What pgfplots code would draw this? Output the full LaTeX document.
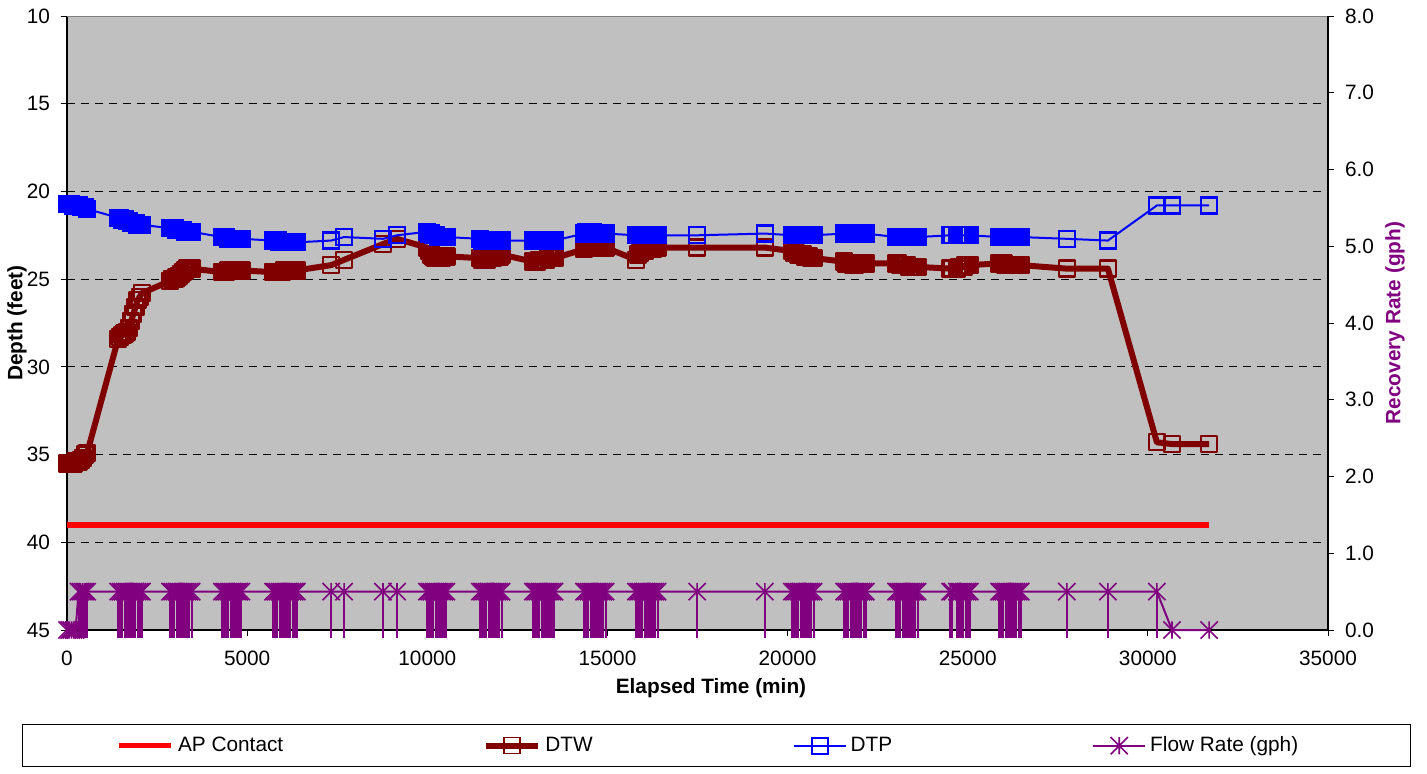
\documentclass[border=0pt]{standalone}
\usepackage{fontspec}
\setmainfont{Liberation Sans}
\usepackage{pgfplots}
\usepackage{pgfplotstable}
\pgfplotsset{compat=1.18}

\definecolor{dtwred}{HTML}{800000}
\definecolor{bggray}{HTML}{C0C0C0}
\definecolor{flowpurple}{HTML}{800080}
\definecolor{rimgray}{HTML}{808080}

% Excel-like star: vertical bar plus an X
\pgfdeclareplotmark{xstar}{%
  \pgfpathmoveto{\pgfqpoint{0pt}{\pgfplotmarksize}}%
  \pgfpathlineto{\pgfqpoint{0pt}{-\pgfplotmarksize}}%
  \pgfpathmoveto{\pgfqpoint{-\pgfplotmarksize}{\pgfplotmarksize}}%
  \pgfpathlineto{\pgfqpoint{\pgfplotmarksize}{-\pgfplotmarksize}}%
  \pgfpathmoveto{\pgfqpoint{-\pgfplotmarksize}{-\pgfplotmarksize}}%
  \pgfpathlineto{\pgfqpoint{\pgfplotmarksize}{\pgfplotmarksize}}%
  \pgfusepathqstroke}

% t = elapsed time (min), dtw/dtp = depth (feet), q = flow (gph), e = drop of the pump line
\pgfplotstableread[row sep=\\]{
t dtw dtp q e\\
0 35.5 20.7 0 0\\ 60 35.5 20.7 0 0\\ 120 35.5 20.7 0 0\\ 180 35.5 20.8 0 0\\ 240 35.4 20.8 0 0\\
320 35.4 20.8 0.5 0.6\\ 380 35.3 20.9 0.5 0.6\\ 440 35.2 20.9 0.5 0.6\\ 500 35.0 20.9 0.5 0.6\\ 560 34.9 21.0 0.5 0.6\\
1420 28.4 21.5 0.5 0.6\\ 1480 28.3 21.5 0.5 0.6\\ 1540 28.2 21.6 0.5 0.6\\ 1600 28.1 21.6 0.5 0.6\\
1660 28.0 21.7 0.5 0.6\\ 1720 27.8 21.7 0.5 0.6\\ 1780 27.4 21.8 0.5 0.6\\ 1840 27.0 21.8 0.5 0.6\\
1900 26.6 21.8 0.5 0.6\\ 1960 26.2 21.9 0.5 0.6\\ 2020 26.0 21.9 0.5 0.6\\ 2080 25.8 21.9 0.5 0.6\\
2860 25.1 22.1 0.5 0.6\\ 2920 25.0 22.1 0.5 0.6\\ 2980 25.0 22.1 0.5 0.6\\ 3040 24.9 22.2 0.5 0.6\\
3100 24.8 22.2 0.5 0.6\\ 3160 24.7 22.2 0.5 0.6\\ 3220 24.6 22.2 0.5 0.6\\ 3280 24.5 22.3 0.5 0.6\\
3340 24.4 22.3 0.5 0.6\\ 3400 24.4 22.3 0.5 0.6\\ 3460 24.4 22.3 0.5 0.6\\
4300 24.6 22.6 0.5 0.6\\ 4360 24.6 22.6 0.5 0.6\\ 4420 24.6 22.6 0.5 0.6\\ 4480 24.5 22.7 0.5 0.6\\
4540 24.5 22.7 0.5 0.6\\ 4600 24.5 22.7 0.5 0.6\\ 4660 24.5 22.7 0.5 0.6\\ 4720 24.5 22.7 0.5 0.6\\
4780 24.5 22.7 0.5 0.6\\ 4840 24.5 22.7 0.5 0.6\\
5720 24.6 22.8 0.5 0.6\\ 5780 24.6 22.8 0.5 0.6\\ 5840 24.6 22.8 0.5 0.6\\ 5900 24.6 22.9 0.5 0.6\\
5960 24.6 22.9 0.5 0.6\\ 6020 24.5 22.9 0.5 0.6\\ 6080 24.5 22.9 0.5 0.6\\ 6140 24.5 22.9 0.5 0.6\\
6200 24.5 22.9 0.5 0.6\\ 6260 24.5 22.9 0.5 0.6\\ 6320 24.5 22.9 0.5 0.6\\ 6380 24.5 22.9 0.5 0.6\\
7330 24.2 22.8 0.5 0.6\\ 7690 23.9 22.6 0.5 0.6\\ 8770 23.0 22.7 0.5 0.6\\ 9160 22.7 22.5 0.5 0.6\\
9990 23.2 22.3 0.5 0.6\\ 10050 23.4 22.4 0.5 0.6\\ 10110 23.6 22.4 0.5 0.6\\ 10170 23.7 22.5 0.5 0.6\\
10230 23.8 22.5 0.5 0.6\\ 10290 23.8 22.6 0.5 0.6\\ 10350 23.8 22.6 0.5 0.6\\ 10410 23.8 22.6 0.5 0.6\\
10470 23.7 22.6 0.5 0.6\\ 10530 23.7 22.6 0.5 0.6\\
11460 23.8 22.7 0.5 0.6\\ 11520 23.9 22.8 0.5 0.6\\ 11580 23.9 22.8 0.5 0.6\\ 11640 23.9 22.8 0.5 0.6\\
11700 23.8 22.8 0.5 0.6\\ 11760 23.8 22.8 0.5 0.6\\ 11820 23.8 22.8 0.5 0.6\\ 11880 23.7 22.8 0.5 0.6\\
11940 23.7 22.8 0.5 0.6\\ 12000 23.7 22.8 0.5 0.6\\ 12060 23.6 22.8 0.5 0.6\\
12930 24.0 22.8 0.5 0.6\\ 12990 24.0 22.8 0.5 0.6\\ 13050 24.0 22.8 0.5 0.6\\ 13110 23.9 22.8 0.5 0.6\\
13170 23.9 22.8 0.5 0.6\\ 13230 23.9 22.8 0.5 0.6\\ 13290 23.9 22.8 0.5 0.6\\ 13350 23.8 22.8 0.5 0.6\\
13410 23.8 22.8 0.5 0.6\\ 13470 23.8 22.8 0.5 0.6\\ 13530 23.8 22.8 0.5 0.6\\
14350 23.3 22.4 0.5 0.6\\ 14410 23.2 22.3 0.5 0.6\\ 14470 23.1 22.3 0.5 0.6\\ 14530 23.1 22.3 0.5 0.6\\
14590 23.1 22.3 0.5 0.6\\ 14650 23.2 22.4 0.5 0.6\\ 14710 23.2 22.4 0.5 0.6\\ 14770 23.2 22.4 0.5 0.6\\
14830 23.2 22.4 0.5 0.6\\ 14890 23.2 22.4 0.5 0.6\\ 14950 23.2 22.4 0.5 0.6\\
15790 23.9 22.5 0.5 0.6\\ 15850 23.6 22.5 0.5 0.6\\ 15910 23.5 22.5 0.5 0.6\\ 15970 23.4 22.5 0.5 0.6\\
16030 23.4 22.5 0.5 0.6\\ 16090 23.3 22.5 0.5 0.6\\ 16150 23.3 22.5 0.5 0.6\\ 16210 23.3 22.5 0.5 0.6\\
16270 23.3 22.5 0.5 0.6\\ 16330 23.2 22.5 0.5 0.6\\ 16390 23.2 22.5 0.5 0.6\\
17490 23.2 22.5 0.5 0.6\\ 19370 23.2 22.4 0.5 0.6\\
20120 23.4 22.5 0.5 0.6\\ 20180 23.5 22.5 0.5 0.6\\ 20240 23.5 22.5 0.5 0.6\\ 20300 23.6 22.5 0.5 0.6\\
20360 23.6 22.5 0.5 0.6\\ 20420 23.6 22.5 0.5 0.6\\ 20480 23.7 22.5 0.5 0.6\\ 20540 23.7 22.5 0.5 0.6\\
20600 23.7 22.5 0.5 0.6\\ 20660 23.8 22.5 0.5 0.6\\ 20720 23.8 22.5 0.5 0.6\\
21570 24.0 22.4 0.5 0.6\\ 21630 24.1 22.4 0.5 0.6\\ 21690 24.1 22.4 0.5 0.6\\ 21750 24.1 22.4 0.5 0.6\\
21810 24.2 22.4 0.5 0.6\\ 21870 24.2 22.4 0.5 0.6\\ 21930 24.1 22.4 0.5 0.6\\ 21990 24.1 22.4 0.5 0.6\\
22050 24.1 22.4 0.5 0.6\\ 22110 24.1 22.4 0.5 0.6\\ 22170 24.1 22.4 0.5 0.6\\
23010 24.1 22.6 0.5 0.6\\ 23070 24.1 22.6 0.5 0.6\\ 23130 24.2 22.6 0.5 0.6\\ 23190 24.2 22.6 0.5 0.6\\
23250 24.2 22.6 0.5 0.6\\ 23310 24.2 22.6 0.5 0.6\\ 23370 24.3 22.6 0.5 0.6\\ 23430 24.3 22.6 0.5 0.6\\
23490 24.3 22.6 0.5 0.6\\ 23550 24.3 22.6 0.5 0.6\\ 23610 24.3 22.6 0.5 0.6\\
24510 24.4 22.5 0.5 0.6\\ 24570 24.4 22.5 0.5 0.6\\ 24700 24.4 22.5 0.5 0.6\\ 24760 24.3 22.5 0.5 0.6\\
24820 24.3 22.5 0.5 0.6\\ 24880 24.3 22.5 0.5 0.6\\ 24940 24.2 22.5 0.5 0.6\\ 25000 24.2 22.5 0.5 0.6\\
25060 24.2 22.5 0.5 0.6\\
25870 24.1 22.6 0.5 0.6\\ 25930 24.1 22.6 0.5 0.6\\ 25990 24.1 22.6 0.5 0.6\\ 26050 24.2 22.6 0.5 0.6\\
26110 24.2 22.6 0.5 0.6\\ 26170 24.2 22.6 0.5 0.6\\ 26230 24.2 22.6 0.5 0.6\\ 26290 24.2 22.6 0.5 0.6\\
26350 24.2 22.6 0.5 0.6\\ 26410 24.2 22.6 0.5 0.6\\ 26470 24.2 22.6 0.5 0.6\\
27750 24.4 22.7 0.5 0.6\\ 28890 24.4 22.8 0.5 0.6\\ 30250 34.3 20.8 0.5 0.6\\
30670 34.4 20.8 0 0\\ 31700 34.4 20.8 0 0\\
}\data

\pgfplotsset{
  common/.style={
    scale only axis, width=630.5pt, height=307pt,
    xmin=0, xmax=35000,
    font=\fontsize{10.4}{12.5}\selectfont,
    /pgf/number format/assume math mode=true,
    tick align=outside, major tick length=3pt,
    tick style={black, line width=0.5pt},
    axis line style={black, line width=0.6pt, -},
  },
}

\begin{document}
\begin{tikzpicture}
\path[use as bounding box] (-33.5pt,-71.5pt) rectangle (680pt,315pt);

\begin{axis}[
    common,
    axis x line*=bottom, axis y line*=left,
    xtick pos=bottom, ytick pos=left,
    axis background/.style={fill=bggray},
    y dir=reverse, ymin=10, ymax=45,
    ytick={10,15,...,45},
    xtick={0,5000,...,35000},
    scaled x ticks=false,
    xticklabel style={/pgf/number format/1000 sep={}, yshift=-4pt},
    yticklabel style={xshift=-2pt},
    ymajorgrids,
    major grid style={black, line width=0.5pt, dash pattern=on 4pt off 3pt},
    xlabel={\bfseries Elapsed Time (min)},
    xlabel style={at={(axis description cs:0.5107,-0.0945)}, anchor=center},
    ylabel={\bfseries Depth (feet)},
    ylabel style={at={(axis description cs:-0.0397,0.5)}, anchor=center},
]
\addplot[red, line width=2.75pt] coordinates {(0,39.0) (31700,39.0)};
\addplot[dtwred, line width=3pt, line join=round, mark=square, mark size=4pt,
  mark options={solid, line width=1.15pt}] table[x=t, y=dtw] {\data};
\addplot[blue, line width=1pt, mark=square, mark size=4pt,
  mark options={solid, line width=1.15pt}] table[x=t, y=dtp] {\data};
\draw[rimgray, line width=0.75pt] (rel axis cs:0,1) -- (rel axis cs:1,1);
\end{axis}

\begin{axis}[
    common,
    hide x axis,
    axis y line*=right, ytick pos=right,
    ymin=0, ymax=8, ytick={0,1,...,8},
    yticklabel style={/pgf/number format/.cd, fixed, fixed zerofill, precision=1, /tikz/.cd, xshift=2pt},
    clip=false,
    ylabel={\bfseries Recovery Rate (gph)},
    ylabel style={flowpurple, at={(axis description cs:1.0531,0.5)}, anchor=center, rotate=0},
    legend image code/.code={\draw[mark repeat=2, mark phase=2, #1] plot coordinates {(0pt,0pt) (13pt,0pt) (26pt,0pt)};},
    legend columns=4,
    legend style={at={(axis description cs:-0.0357,-0.1531)}, anchor=north west,
      draw=black, line width=0.6pt, fill=white, inner xsep=47pt, inner ysep=4pt,
      /tikz/every even column/.append style={column sep=98pt},
      font=\fontsize{10.4}{12.5}\selectfont},
]
\addlegendimage{red, line width=2.75pt}
\addlegendentry{AP Contact}
\addlegendimage{dtwred, line width=3pt, mark=square, mark size=4pt, mark options={solid, line width=0.8pt}}
\addlegendentry{DTW}
\addlegendimage{blue, line width=1pt, mark=square, mark size=4pt, mark options={solid, line width=1pt}}
\addlegendentry{DTP}
\addplot[flowpurple, line width=1pt, mark=xstar, mark size=4.3pt,
  mark options={solid, line width=0.8pt},
  error bars/.cd, y dir=minus, y explicit, error mark=none,
  error bar style={flowpurple, line width=1pt}]
  table[x=t, y=q, y error=e] {\data};
\addlegendentry{Flow Rate (gph)\hspace*{7pt}}
\end{axis}
\end{tikzpicture}
\end{document}
